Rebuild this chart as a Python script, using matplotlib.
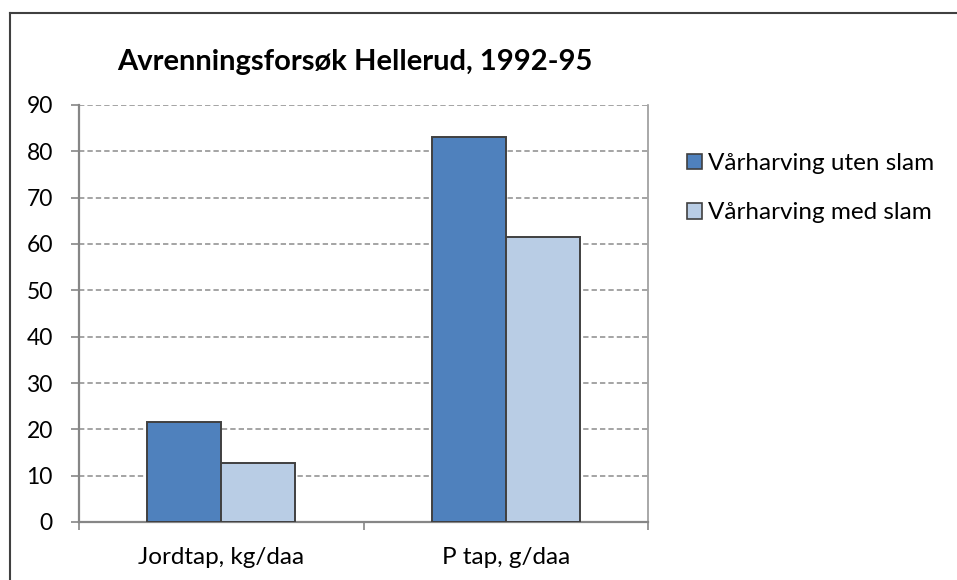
import matplotlib
matplotlib.use("Agg")
import matplotlib.pyplot as plt
from matplotlib.lines import Line2D
from matplotlib.patches import Patch
import numpy as np

plt.rcParams['font.family'] = ['Lato', 'DejaVu Sans']

categories = ["Jordtap, kg/daa", "P tap, g/daa"]
series_names = ["Vårharving uten slam", "Vårharving med slam"]
uten_slam = [21.6, 83.2]
med_slam = [12.7, 61.6]
yticks = [0, 10, 20, 30, 40, 50, 60, 70, 80, 90]
title = "Avrenningsforsøk Hellerud, 1992-95"

colors = ["#4F81BD", "#B9CDE5"]
edge = "#404040"

fig = plt.figure(figsize=(9.57, 5.80), dpi=100)
ax = fig.add_axes([79/957, 1-522/580, (648-79)/957, (522-105)/580])

x = np.arange(len(categories))
w = 0.26
ax.bar(x - w/2, uten_slam, width=w, color=colors[0], edgecolor=edge, linewidth=1.4, zorder=3)
ax.bar(x + w/2, med_slam, width=w, color=colors[1], edgecolor=edge, linewidth=1.4, zorder=3)

ax.set_xlim(-0.5, len(categories) - 0.5)
ax.set_ylim(0, 90)
ax.set_yticks(yticks)
ax.set_yticklabels([str(t) for t in yticks], fontsize=16.5)
ax.yaxis.grid(True, linestyle=(0, (3.5, 2)), color="#8c8c8c", linewidth=1.1, zorder=0)
ax.set_axisbelow(True)

ax.set_xticks([-0.5, 0.5, 1.5], minor=False)
ax.set_xticklabels([])
ax.set_xticks(x, minor=True)
ax.set_xticklabels(categories, minor=True, fontsize=17.5)
ax.tick_params(axis='x', which='minor', length=0, pad=18)
ax.tick_params(axis='x', which='major', length=5.8, width=1.2, color="#868686", direction='out')
ax.tick_params(axis='y', length=5.8, width=1.2, color="#868686", direction='out', pad=13)

for s in ['left', 'bottom']:
    ax.spines[s].set_color("#868686")
    ax.spines[s].set_linewidth(1.6)
ax.spines['right'].set_color("#9a9a9a")
ax.spines['right'].set_linewidth(1.2)
ax.spines['top'].set_visible(False)

fig.text(355/957, 1-62/580, title, fontsize=21, fontweight='bold', ha='center', va='center')

handles = [Patch(facecolor=colors[i], edgecolor=edge, linewidth=1.2) for i in range(2)]
leg = fig.legend(handles, series_names, loc='upper left', bbox_to_anchor=(687/957, 1-153/580),
                 frameon=False, fontsize=17.5, handlelength=0.62, handleheight=0.62,
                 handletextpad=0.25, labelspacing=1.17, borderpad=0, borderaxespad=0)

# outer chart frame (top and left edges visible)
fig.add_artist(Line2D([10/957, 1.0], [1-13/580, 1-13/580], transform=fig.transFigure, color="#404040", linewidth=1.5))
fig.add_artist(Line2D([10/957, 10/957], [0, 1-13/580], transform=fig.transFigure, color="#404040", linewidth=1.5))

fig.savefig("out.png", dpi=100)
